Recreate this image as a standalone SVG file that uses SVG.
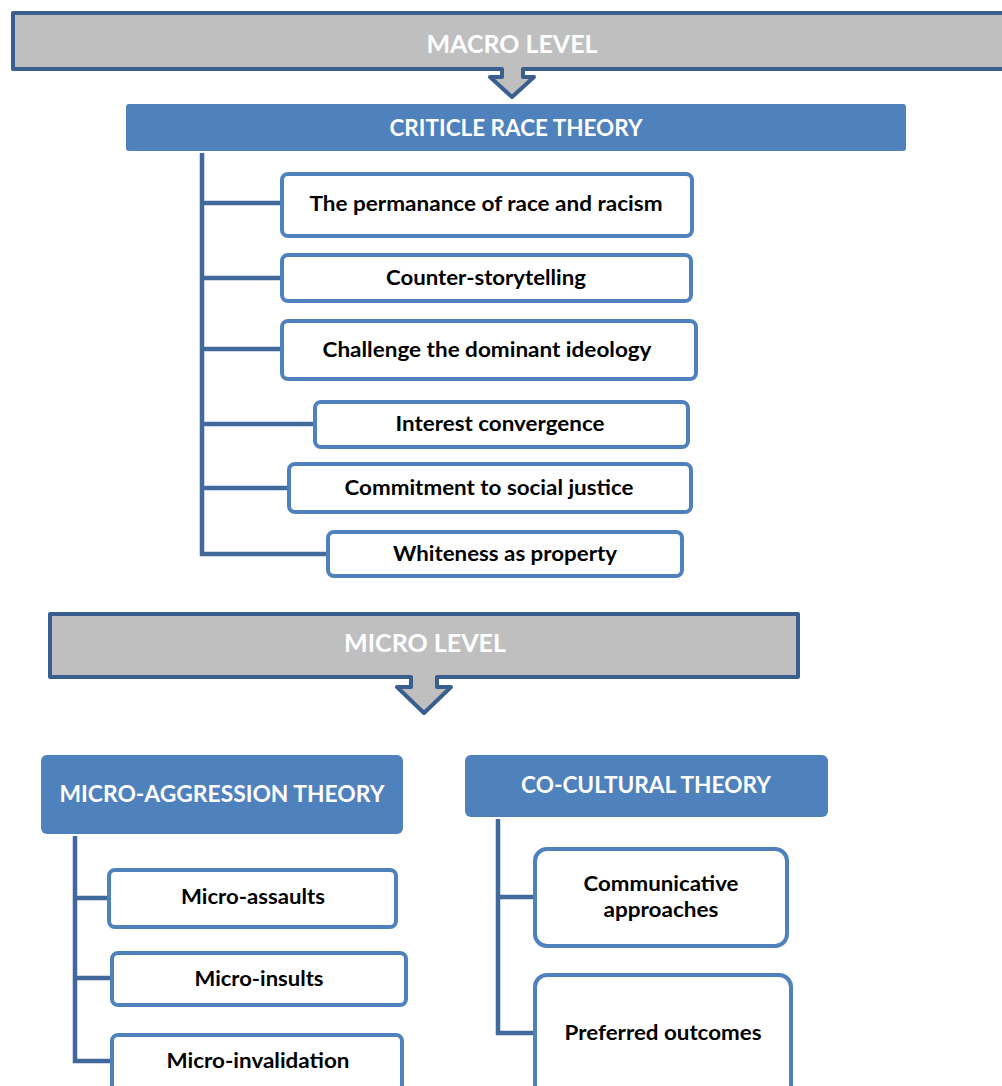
<svg xmlns="http://www.w3.org/2000/svg" width="1002" height="1086" viewBox="0 0 1002 1086">
  <style>
    .level { fill: #BFBFBF; stroke: #3A5F8E; stroke-width: 4; stroke-linejoin: round; }
    .head { fill: #4F81BD; }
    .item { fill: #FFFFFF; stroke: #4F81BD; stroke-width: 4; }
    .link { fill: none; stroke: #41699B; stroke-width: 4.5; stroke-linejoin: miter; }
    text { font-family: Lato, "Open Sans", "Liberation Sans", sans-serif; font-weight: bold; text-anchor: middle; }
    .white { fill: #FFFFFF; }
    .label { fill: #000000; font-size: 20px; }
  </style>

  <rect width="1002" height="1086" fill="#FFFFFF"/>

  <!-- connectors -->
  <g id="connectors">
    <path class="link" d="M202,153 V554 H328 M202,203 H282 M202,278 H282 M202,349 H282 M202,424 H315 M202,488 H289"/>
    <path class="link" d="M75,836 V1061 H112 M75,898 H109 M75,978 H112"/>
    <path class="link" d="M498,819 V1033 H535 M498,897 H535"/>
  </g>

  <!-- macro level banner with down arrow -->
  <g id="macro-level">
    <path class="level" d="M13,13 H1010 V69 H523 V77 H534 L512,97 L490,77 H502 V69 H13 Z"/>
    <text class="white" x="512" y="53" font-size="24" textLength="171" lengthAdjust="spacingAndGlyphs">MACRO LEVEL</text>
  </g>

  <g id="critical-race-theory">
    <rect class="head" x="126" y="104" width="780" height="47" rx="3"/>
    <text class="white" x="516" y="136" font-size="22" textLength="253" lengthAdjust="spacingAndGlyphs">CRITICLE RACE THEORY</text>
  </g>

  <g id="crt-permanence">
    <rect class="item" x="282" y="174" width="410" height="62" rx="6"/>
    <text class="label" x="486" y="211" textLength="353" lengthAdjust="spacingAndGlyphs">The permanance of race and racism</text>
  </g>
  <g id="crt-counter-storytelling">
    <rect class="item" x="282" y="255" width="409" height="46" rx="6"/>
    <text class="label" x="486" y="285" textLength="200" lengthAdjust="spacingAndGlyphs">Counter-storytelling</text>
  </g>
  <g id="crt-challenge">
    <rect class="item" x="282" y="321" width="414" height="58" rx="6"/>
    <text class="label" x="487" y="357" textLength="329" lengthAdjust="spacingAndGlyphs">Challenge the dominant ideology</text>
  </g>
  <g id="crt-interest">
    <rect class="item" x="315" y="402" width="373" height="45" rx="6"/>
    <text class="label" x="500" y="431" textLength="209" lengthAdjust="spacingAndGlyphs">Interest convergence</text>
  </g>
  <g id="crt-social-justice">
    <rect class="item" x="289" y="464" width="402" height="48" rx="6"/>
    <text class="label" x="489" y="495" textLength="289" lengthAdjust="spacingAndGlyphs">Commitment to social justice</text>
  </g>
  <g id="crt-whiteness">
    <rect class="item" x="328" y="532" width="354" height="44" rx="6"/>
    <text class="label" x="505" y="561" textLength="224" lengthAdjust="spacingAndGlyphs">Whiteness as property</text>
  </g>

  <!-- micro level banner with down arrow -->
  <g id="micro-level">
    <path class="level" d="M50,614 H798 V677 H437 V687 H451 L424,713 L397,687 H411 V677 H50 Z"/>
    <text class="white" x="425" y="652" font-size="24" textLength="162" lengthAdjust="spacingAndGlyphs">MICRO LEVEL</text>
  </g>

  <g id="micro-aggression-theory">
    <rect class="head" x="41" y="755" width="362" height="79" rx="6"/>
    <text class="white" x="222" y="802" font-size="22" textLength="325" lengthAdjust="spacingAndGlyphs">MICRO-AGGRESSION THEORY</text>
  </g>
  <g id="micro-assaults">
    <rect class="item" x="109" y="870" width="287" height="57" rx="6"/>
    <text class="label" x="253" y="904" textLength="144" lengthAdjust="spacingAndGlyphs">Micro-assaults</text>
  </g>
  <g id="micro-insults">
    <rect class="item" x="112" y="953" width="294" height="52" rx="6"/>
    <text class="label" x="259" y="986" textLength="129" lengthAdjust="spacingAndGlyphs">Micro-insults</text>
  </g>
  <g id="micro-invalidation">
    <rect class="item" x="112" y="1035" width="290" height="70" rx="6"/>
    <text class="label" x="258" y="1068" textLength="183" lengthAdjust="spacingAndGlyphs">Micro-invalidation</text>
  </g>

  <g id="co-cultural-theory">
    <rect class="head" x="465" y="755" width="363" height="62" rx="6"/>
    <text class="white" x="646" y="793" font-size="22" textLength="250" lengthAdjust="spacingAndGlyphs">CO-CULTURAL THEORY</text>
  </g>
  <g id="communicative-approaches">
    <rect class="item" x="535" y="849" width="252" height="97" rx="12"/>
    <text class="label" x="661" y="891" textLength="155" lengthAdjust="spacingAndGlyphs">Communicative</text>
    <text class="label" x="661" y="917" textLength="115" lengthAdjust="spacingAndGlyphs">approaches</text>
  </g>
  <g id="preferred-outcomes">
    <rect class="item" x="535" y="975" width="256" height="130" rx="12"/>
    <text class="label" x="663" y="1040" textLength="197" lengthAdjust="spacingAndGlyphs">Preferred outcomes</text>
  </g>
</svg>
